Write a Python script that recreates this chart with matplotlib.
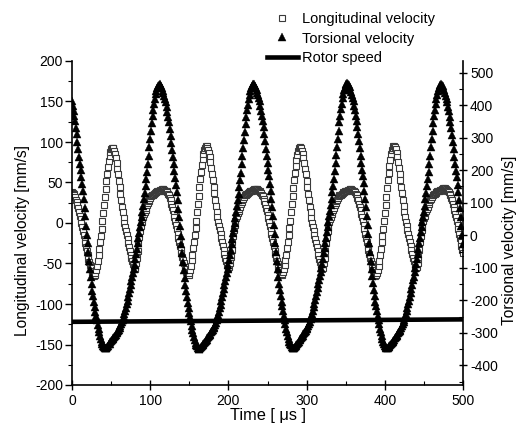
import numpy as np
import matplotlib
matplotlib.use("Agg")
import matplotlib.pyplot as plt
from matplotlib.ticker import MultipleLocator

plt.rcParams['font.family'] = ['Liberation Sans', 'DejaVu Sans']
plt.rcParams['axes.unicode_minus'] = False

# sampling times [us]
time_us = np.arange(0, 501, 1)

# longitudinal velocity [mm/s] (left axis)
longitudinal = [
    38, 37, 36, 34, 32, 29, 26, 22, 18, 14,
    9, 5, 0, -5, -10, -15, -20, -25, -30, -35,
    -39, -44, -48, -52, -56, -59, -62, -64, -65, -64,
    -62, -58, -53, -47, -40, -32, -24, -16, -7, 2,
    12, 22, 32, 42, 52, 61, 69, 77, 83, 88,
    91, 93, 93, 92, 89, 85, 80, 74, 67, 60,
    52, 44, 36, 28, 20, 13, 6, 0, -5, -10,
    -15, -20, -25, -30, -34, -39, -43, -47, -51, -54,
    -57, -55, -50, -43, -34, -25, -17, -10, -4, 1,
    5, 8, 11, 14, 16, 19, 22, 25, 27, 29,
    31, 33, 34, 35, 35, 36, 37, 38, 38, 39,
    39, 40, 40, 41, 41, 42, 42, 42, 41, 40,
    40, 39, 38, 36, 34, 31, 28, 24, 20, 16,
    11, 7, 2, -3, -8, -13, -18, -23, -28, -33,
    -37, -42, -46, -50, -54, -57, -60, -63, -64, -64,
    -62, -58, -53, -46, -39, -31, -23, -15, -6, 3,
    13, 23, 33, 44, 54, 63, 71, 79, 85, 90,
    93, 95, 95, 93, 90, 86, 81, 75, 68, 61,
    53, 45, 37, 29, 21, 14, 7, 1, -4, -9,
    -14, -19, -24, -29, -33, -38, -43, -47, -52, -55,
    -56, -54, -49, -42, -33, -24, -16, -9, -3, 2,
    6, 9, 12, 15, 17, 20, 23, 26, 28, 30,
    32, 34, 35, 36, 36, 37, 38, 39, 39, 40,
    40, 41, 41, 42, 42, 42, 42, 42, 41, 40,
    39, 38, 37, 35, 33, 30, 27, 23, 19, 15,
    10, 6, 1, -4, -9, -14, -19, -24, -29, -34,
    -38, -43, -47, -51, -55, -58, -61, -63, -64, -63,
    -61, -57, -52, -46, -39, -31, -23, -15, -6, 3,
    13, 23, 33, 43, 53, 62, 70, 78, 84, 89,
    92, 94, 94, 92, 89, 85, 80, 74, 67, 60,
    52, 44, 36, 28, 20, 13, 6, 0, -5, -10,
    -15, -20, -25, -30, -34, -39, -44, -48, -52, -55,
    -57, -55, -50, -43, -34, -25, -17, -10, -4, 1,
    5, 8, 11, 14, 16, 19, 22, 25, 27, 29,
    31, 33, 34, 35, 35, 36, 37, 38, 38, 39,
    39, 40, 40, 41, 41, 42, 42, 42, 41, 40,
    40, 39, 38, 36, 34, 31, 28, 24, 20, 16,
    11, 7, 2, -3, -8, -13, -18, -23, -28, -33,
    -38, -43, -47, -51, -55, -58, -61, -64, -65, -64,
    -62, -58, -53, -47, -40, -32, -24, -16, -7, 2,
    12, 22, 32, 43, 53, 62, 70, 78, 85, 90,
    93, 95, 95, 94, 91, 87, 82, 75, 68, 61,
    53, 45, 37, 29, 21, 14, 7, 1, -4, -9,
    -14, -19, -24, -29, -33, -38, -43, -47, -51, -54,
    -56, -54, -49, -42, -33, -24, -16, -9, -3, 2,
    6, 9, 12, 15, 17, 20, 23, 26, 28, 30,
    32, 34, 35, 36, 36, 37, 38, 39, 39, 40,
    40, 41, 41, 42, 42, 43, 43, 43, 42, 41,
    40, 39, 38, 36, 34, 31, 28, 24, 20, 16,
    11, 7, 2, -3, -8, -13, -18, -23, -28, -33,
    -37,
]

# torsional velocity [mm/s] (right axis)
torsional = [
    412, 397, 382, 366, 350, 331, 310, 288, 265, 242,
    220, 200, 180, 158, 135, 110, 85, 58, 30, 2,
    -25, -53, -80, -105, -128, -150, -170, -188, -205, -220,
    -235, -249, -262, -275, -288, -299, -310, -320, -328, -335,
    -340, -344, -347, -347, -346, -343, -340, -336, -333, -329,
    -326, -323, -320, -316, -313, -310, -306, -302, -298, -294,
    -290, -285, -280, -274, -268, -260, -252, -243, -234, -223,
    -212, -201, -190, -178, -165, -153, -140, -128, -115, -103,
    -90, -74, -58, -42, -25, -9, 8, 24, 40, 56,
    72, 91, 110, 130, 150, 172, 195, 220, 245, 270,
    295, 320, 345, 366, 385, 403, 420, 433, 445, 453,
    460, 463, 465, 462, 458, 452, 445, 437, 428, 420,
    410, 395, 380, 364, 347, 328, 306, 284, 262, 240,
    218, 197, 176, 154, 132, 107, 82, 55, 27, -1,
    -28, -56, -82, -107, -130, -152, -172, -190, -208, -223,
    -238, -252, -265, -278, -290, -301, -312, -322, -330, -337,
    -342, -346, -349, -349, -348, -345, -342, -338, -335, -331,
    -328, -324, -321, -317, -314, -310, -307, -303, -299, -295,
    -291, -286, -281, -275, -269, -261, -253, -244, -235, -224,
    -213, -202, -191, -179, -166, -154, -141, -129, -116, -104,
    -91, -76, -60, -44, -27, -11, 6, 22, 38, 54,
    70, 89, 108, 128, 148, 170, 193, 218, 243, 268,
    293, 318, 343, 364, 384, 402, 419, 432, 444, 452,
    459, 463, 466, 464, 460, 454, 447, 439, 430, 421,
    412, 398, 383, 367, 351, 332, 311, 289, 266, 243,
    221, 201, 181, 159, 136, 111, 86, 59, 31, 3,
    -24, -52, -79, -104, -127, -149, -169, -187, -204, -219,
    -234, -248, -261, -274, -287, -298, -309, -319, -327, -334,
    -339, -343, -346, -347, -347, -344, -341, -337, -334, -330,
    -327, -323, -320, -316, -313, -309, -305, -301, -297, -293,
    -289, -284, -279, -273, -267, -259, -251, -242, -233, -222,
    -211, -200, -188, -176, -163, -151, -138, -126, -113, -101,
    -88, -72, -56, -40, -23, -7, 10, 26, 42, 58,
    75, 93, 112, 132, 152, 174, 197, 222, 247, 272,
    297, 322, 347, 368, 387, 405, 421, 434, 446, 454,
    461, 465, 467, 465, 461, 455, 448, 440, 431, 422,
    413, 399, 384, 368, 352, 333, 312, 290, 267, 244,
    222, 202, 182, 160, 137, 112, 87, 60, 32, 4,
    -23, -51, -78, -103, -126, -148, -168, -187, -204, -219,
    -234, -248, -261, -274, -287, -298, -309, -319, -327, -334,
    -340, -344, -347, -348, -347, -344, -341, -337, -334, -331,
    -327, -324, -321, -317, -314, -310, -306, -302, -298, -294,
    -290, -285, -280, -274, -268, -260, -252, -243, -234, -223,
    -212, -201, -189, -177, -164, -152, -139, -127, -114, -102,
    -89, -73, -57, -41, -24, -8, 9, 25, 41, 57,
    73, 91, 110, 130, 150, 172, 195, 220, 245, 270,
    295, 320, 345, 366, 385, 403, 420, 432, 444, 452,
    459, 463, 465, 463, 459, 453, 446, 438, 429, 420,
    411, 396, 381, 365, 349, 330, 309, 287, 264, 241,
    219, 199, 178, 156, 134, 109, 84, 57, 29, 1,
    -26,
]

# rotor speed (left-axis scale)
rotor_time = [0, 500]
rotor_speed = [-122, -119]

fig = plt.figure(figsize=(5.16, 4.36), dpi=100)
ax = fig.add_axes([72 / 516, 1 - 385 / 436, (463 - 72) / 516, (385 - 61) / 436])
ax2 = ax.twinx()

l_long, = ax.plot(time_us, longitudinal, linestyle='none', marker='s',
                  markersize=4.4, markerfacecolor='white',
                  markeredgecolor='#3a3a3a', markeredgewidth=0.8,
                  label='Longitudinal velocity', zorder=2)
l_rot, = ax.plot(rotor_time, rotor_speed, color='black', linewidth=3.3,
                 label='Rotor speed', zorder=3)
l_tor, = ax2.plot(time_us, torsional, linestyle='none', marker='^',
                  markersize=5.9, color='black', markeredgewidth=0.3,
                  label='Torsional velocity', zorder=3)

ax.set_xlim(0, 500)
ax.set_ylim(-200, 200)
ax2.set_ylim(-460.6, 536)

ax.xaxis.set_major_locator(MultipleLocator(100))
ax.xaxis.set_minor_locator(MultipleLocator(50))
ax.yaxis.set_major_locator(MultipleLocator(50))
ax.yaxis.set_minor_locator(MultipleLocator(25))
ax2.set_yticks(np.arange(-400, 501, 100))
ax2.yaxis.set_minor_locator(MultipleLocator(50))

for a in (ax, ax2):
    a.spines['top'].set_visible(False)
    for s in a.spines.values():
        s.set_linewidth(1.2)
ax.spines['right'].set_visible(False)
ax2.spines['left'].set_visible(False)
ax2.spines['bottom'].set_visible(False)

ax.tick_params(axis='y', which='major', direction='out', length=5, width=1, labelsize=10, pad=1.5)
ax.tick_params(axis='y', which='minor', direction='out', length=3, width=0.8)
ax.tick_params(axis='x', which='major', direction='inout', length=7, width=1, labelsize=10, pad=3)
ax.tick_params(axis='x', which='minor', direction='in', length=3, width=0.8)
ax2.tick_params(axis='y', which='major', direction='inout', length=6, width=1, labelsize=10, pad=2)
ax2.tick_params(axis='y', which='minor', direction='in', length=3, width=0.8)

ax.set_xlabel('Time [ μs ]', fontsize=11.8, labelpad=0)
ax.set_ylabel('Longitudinal velocity [mm/s]', fontsize=11.2)
ax2.set_ylabel('Torsional velocity [mm/s]', fontsize=11.2, rotation=90)
ax.yaxis.set_label_coords(-0.107, 0.4475)
ax2.yaxis.set_label_coords(1.0997, 0.4475)

fig.legend(handles=[l_long, l_tor, l_rot], loc='upper left',
           bbox_to_anchor=(264 / 516, 1 - 9 / 436), frameon=False,
           fontsize=10.5, handlelength=2.1, handletextpad=0.3,
           labelspacing=0.39, borderaxespad=0, borderpad=0.2)

fig.savefig('out.png', dpi=100)
